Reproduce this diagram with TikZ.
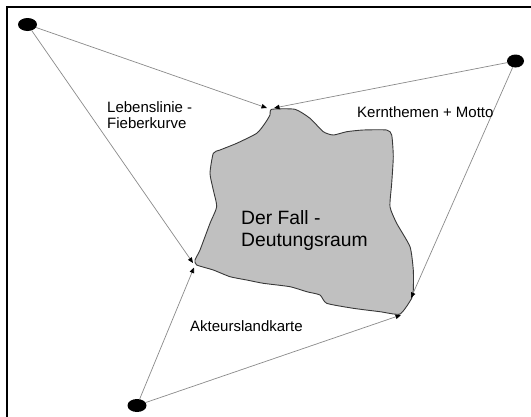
\documentclass[tikz,border=0pt]{standalone}
\usepackage{fontspec}
\setmainfont{Liberation Sans}
\usetikzlibrary{arrows.meta,shapes.geometric}

\definecolor{blobfill}{HTML}{C0C0C0}
\definecolor{blobline}{HTML}{383838}
\definecolor{linkgray}{HTML}{8A8A8A}

\tikzset{
  dot/.style={ellipse, fill=black, draw=none, minimum width=19pt, minimum height=13pt, inner sep=0pt},
  link/.style={draw=linkgray, line width=0.7pt,
    -{Triangle[black, length=5.5pt, width=4.5pt]}},
  label/.style={font=\fontsize{15}{16.5}\selectfont, inner sep=0pt, align=left},
  bigLabel/.style={font=\fontsize{19.3}{21.5}\selectfont, inner sep=0pt, align=left}
}

\begin{document}
\begin{tikzpicture}[x=1pt, y=-1pt]
  \useasboundingbox (0,0) rectangle (531,416);
  \clip (0,0) rectangle (531,416);

  % outer frame (runs past the right and bottom edges)
  \draw[line width=2.3pt] (7,7) rectangle (545,430);

  % the case region
  \draw[fill=blobfill, draw=blobline, line width=0.9pt]
    plot[smooth cycle, tension=0.35] coordinates {
      (271.7,109.3) (295,109.3) (310,118.3) (323.3,131.7) (333.3,135)
      (346.7,131.7) (363.3,130) (386.7,130) (391.7,135) (393.3,156.7)
      (391.7,183.3) (390,206.7) (396.7,223.3) (410,246.7) (413.3,270)
      (413.3,290) (411.7,298.3) (400,314) (380,311.7) (353.3,308.3)
      (326.7,303.3) (320,295) (306.7,291.7) (290,286.7) (263.3,283.3)
      (246.7,280) (230,276.7) (213.3,270) (196.7,265) (195,260)
      (200,250) (210,223.3) (216.7,206.7) (213.3,190) (210,173.3)
      (213.3,153.3) (220,150) (236.7,143.3) (256.7,133.3) (265,123.3)
      (270,115)};

  % attachment points on the region's edge
  \coordinate (topL) at (267,108);
  \coordinate (topR) at (274,108);
  \coordinate (leftU) at (193,263);
  \coordinate (leftD) at (194,267.5);
  \coordinate (rightU) at (411,298);
  \coordinate (rightD) at (401,315);

  % the three perspectives
  \node[dot] (tl) at (27.5,24.5) {};
  \node[dot, minimum width=17pt] (tr) at (515.5,61) {};
  \node[dot] (bl) at (137,405.5) {};

  \draw[link] (tl) -- (topL);
  \draw[link] (tl) -- (leftU);
  \draw[link] (tr) -- (topR);
  \draw[link] (tr) -- (rightU);
  \draw[link] (bl) -- (leftD);
  \draw[link] (bl) -- (rightD);

  % labels (base anchor sits on the last line)
  \node[label, anchor=base west] (lebens) at (107,128.5) {Lebenslinie -\\Fieberkurve};
  \node[label, anchor=base west] (kern) at (357,117) {Kernthemen + Motto};
  \node[label, anchor=base west] (akteur) at (190,331) {Akteurslandkarte};
  \node[bigLabel, anchor=base west] (fall) at (241,246) {Der Fall -\\Deutungsraum};
\end{tikzpicture}
\end{document}
